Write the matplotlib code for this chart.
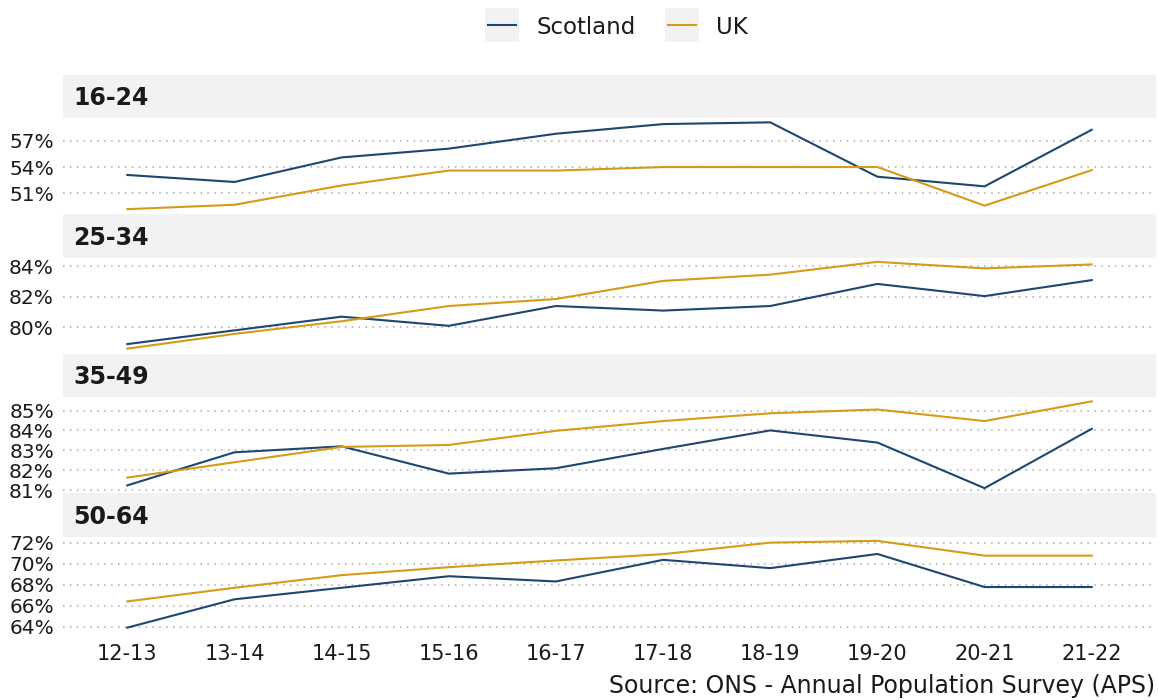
import matplotlib
matplotlib.use("Agg")
import matplotlib.pyplot as plt
from matplotlib.patches import Rectangle
from matplotlib.lines import Line2D

plt.rcParams['font.family'] = ['DejaVu Sans']

years = ["12-13", "13-14", "14-15", "15-16", "16-17", "17-18", "18-19", "19-20", "20-21", "21-22"]
age_groups = ["16-24", "25-34", "35-49", "50-64"]

scotland_16_24 = [53.1, 52.3, 55.1, 56.1, 57.8, 58.9, 59.1, 52.9, 51.8, 58.25]
uk_16_24 = [49.2, 49.7, 51.9, 53.6, 53.6, 54.0, 54.0, 54.0, 49.6, 53.65]
scotland_25_34 = [78.9, 79.8, 80.7, 80.1, 81.4, 81.1, 81.4, 82.85, 82.05, 83.1]
uk_25_34 = [78.6, 79.57, 80.4, 81.4, 81.86, 83.05, 83.46, 84.3, 83.87, 84.13]
scotland_35_49 = [81.24, 82.9, 83.2, 81.83, 82.1, 83.07, 84.0, 83.39, 81.1, 84.08]
uk_35_49 = [81.63, 82.4, 83.17, 83.27, 83.98, 84.47, 84.86, 85.05, 84.47, 85.46]
scotland_50_64 = [63.9, 66.6, 67.7, 68.8, 68.3, 70.36, 69.57, 70.92, 67.77, 67.77]
uk_50_64 = [66.4, 67.7, 68.9, 69.66, 70.3, 70.9, 72.0, 72.17, 70.76, 70.76]

ticks_16_24 = [51, 54, 57]
ticks_25_34 = [80, 82, 84]
ticks_35_49 = [81, 82, 83, 84, 85]
ticks_50_64 = [64, 66, 68, 70, 72]

scotland = [scotland_16_24, scotland_25_34, scotland_35_49, scotland_50_64]
uk = [uk_16_24, uk_25_34, uk_35_49, uk_50_64]
ticks = [ticks_16_24, ticks_25_34, ticks_35_49, ticks_50_64]

C_SCOT = "#1d4670"
C_UK = "#d69a17"
STRIP = "#f2f2f2"
GRID = "#a8a8a8"
TXT = "#1a1a1a"

W, H = 1158, 700
fig = plt.figure(figsize=(W / 100, H / 100), dpi=100)

def fx(px):
    return px / W

def fy(py):
    return 1 - py / H

left, right = 63, 1156
top0 = 74
facet_h = 139.5
strip_h = 44

x = list(range(len(years)))
for i, grp in enumerate(age_groups):
    t = top0 + i * facet_h
    # strip
    sax = fig.add_axes([fx(left), fy(t + strip_h), fx(right - left), (strip_h - 0.5) / H])
    sax.set_facecolor(STRIP)
    sax.set_xticks([]); sax.set_yticks([])
    for s in sax.spines.values():
        s.set_visible(False)
    sax.text(10 / (right - left), 0.45, grp, transform=sax.transAxes, fontsize=17,
             fontweight='bold', color=TXT, va='center', ha='left')
    # panel
    pb = t + facet_h
    ax = fig.add_axes([fx(left), fy(pb), fx(right - left), (facet_h - strip_h) / H])
    ax.plot(x, scotland[i], color=C_SCOT, lw=1.5, solid_joinstyle='miter')
    ax.plot(x, uk[i], color=C_UK, lw=1.5, solid_joinstyle='miter')
    allv = scotland[i] + uk[i]
    lo, hi = min(allv), max(allv)
    r = hi - lo
    ax.set_ylim(lo - 0.05 * r, hi + 0.05 * r)
    ax.set_xlim(-0.6, len(years) - 1 + 0.6)
    ax.set_yticks(ticks[i])
    ax.set_yticklabels([f"{v}%" for v in ticks[i]])
    ax.tick_params(axis='y', length=0, pad=6.5, labelsize=14.5, labelcolor=TXT)
    ax.grid(axis='y', color=GRID, linestyle=(0, (1, 3.5)), lw=1.1)
    ax.set_axisbelow(True)
    for s in ax.spines.values():
        s.set_visible(False)
    if i == len(age_groups) - 1:
        ax.set_xticks(x)
        ax.set_xticklabels(years)
        ax.tick_params(axis='x', length=0, pad=9, labelsize=15, labelcolor=TXT)
    else:
        ax.set_xticks([])

# legend
def legend_item(x0, label, color):
    box = Rectangle((fx(x0), fy(42)), fx(34), 34 / H, transform=fig.transFigure,
                    facecolor=STRIP, edgecolor='none')
    fig.patches.append(box)
    fig.lines.append(Line2D([fx(x0 + 3), fx(x0 + 31)], [fy(25), fy(25)],
                            transform=fig.transFigure, color=color, lw=1.5))
    fig.text(fx(x0 + 51), fy(27), label, fontsize=16.5, color=TXT, va='center', ha='left')

legend_item(485, "Scotland", C_SCOT)
legend_item(665, "UK", C_UK)

fig.text(fx(1155), fy(686), "Source: ONS - Annual Population Survey (APS)", fontsize=17,
         color=TXT, ha='right', va='center')

fig.savefig("out.png", dpi=100)
